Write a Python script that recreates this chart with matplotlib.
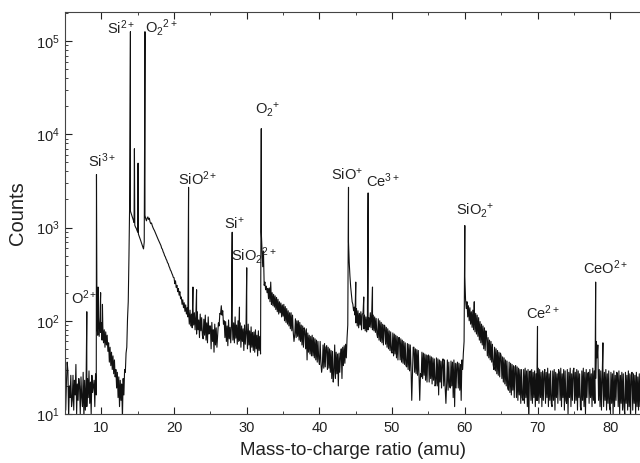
import matplotlib
matplotlib.use("Agg")
import matplotlib.pyplot as plt
from matplotlib.ticker import MultipleLocator, LogLocator, NullFormatter
import numpy as np

plt.rcParams['font.family'] = ['Liberation Sans', 'DejaVu Sans']
plt.rcParams['mathtext.fontset'] = 'custom'
plt.rcParams['mathtext.rm'] = 'Liberation Sans'
plt.rcParams['mathtext.it'] = 'Liberation Sans'
plt.rcParams['mathtext.default'] = 'regular'

# ----------------------------------------------------------------------------
# Background counts on a 0.1 amu grid.
# One row per amu: values at m.0, m.1, ... m.9
# ----------------------------------------------------------------------------
first_amu = 5
amu_step = 0.1
background_rows = [
    [24, 11, 22, 36, 29, 9, 20, 15, 26, 12],                  # 5
    [14, 26, 11, 23, 16, 34, 10, 21, 14, 24],                 # 6
    [20, 10, 25, 15, 12, 28, 9, 23, 11, 21],                  # 7
    [12, 24, 15, 29, 13, 22, 10, 26, 17, 20],                 # 8
    [23, 12, 27, 16, 95, 70, 110, 68, 100, 75],               # 9
    [95, 62, 88, 58, 80, 52, 76, 55, 70, 47],                 # 10
    [58, 36, 52, 33, 46, 30, 42, 27, 38, 25],                 # 11
    [30, 19, 28, 15, 25, 12, 23, 14, 21, 9],                  # 12
    [24, 16, 30, 28, 45, 52, 105, 160, 500, 2000],            # 13
    [1500, 1420, 1350, 1280, 1200, 1130, 1060, 1010, 980, 930],   # 14
    [890, 850, 810, 770, 730, 690, 650, 620, 590, 700],       # 15
    [1350, 1250, 1180, 1260, 1300, 1220, 1260, 1150, 1100, 1120],  # 16
    [1050, 1000, 960, 930, 890, 850, 820, 780, 750, 720],     # 17
    [690, 660, 640, 600, 585, 550, 530, 500, 485, 460],       # 18
    [445, 420, 410, 385, 370, 350, 340, 322, 310, 292],       # 19
    [290, 250, 268, 228, 240, 205, 222, 188, 205, 172],       # 20
    [180, 150, 168, 138, 156, 126, 148, 118, 138, 110],       # 21
    [125, 92, 130, 88, 118, 84, 138, 90, 122, 80],            # 22
    [112, 72, 125, 80, 102, 66, 118, 78, 108, 70],            # 23
    [64, 104, 70, 115, 62, 95, 58, 110, 72, 88],              # 24
    [88, 50, 96, 60, 80, 46, 92, 55, 84, 52],                 # 25
    [70, 95, 88, 120, 118, 145, 115, 128, 92, 100],           # 26
    [66, 98, 60, 88, 54, 102, 64, 85, 58, 92],                # 27
    [105, 62, 95, 58, 110, 65, 90, 56, 100, 60],              # 28
    [62, 95, 52, 88, 60, 82, 48, 90, 56, 80],                 # 29
    [84, 50, 92, 55, 78, 46, 86, 52, 75, 48],                 # 30
    [76, 46, 80, 50, 70, 42, 78, 48, 68, 44],                 # 31
    [900, 600, 380, 560, 240, 260, 215, 235, 200, 222],       # 32
    [172, 225, 160, 260, 150, 200, 145, 192, 140, 185],       # 33
    [132, 178, 125, 170, 118, 160, 122, 155, 110, 148],       # 34
    [112, 150, 100, 142, 96, 135, 92, 128, 88, 122],          # 35
    [82, 122, 78, 115, 75, 60, 70, 105, 66, 100],             # 36
    [68, 100, 62, 96, 60, 90, 55, 88, 52, 84],                # 37
    [78, 50, 82, 38, 74, 46, 70, 44, 68, 42],                 # 38
    [70, 42, 66, 40, 64, 38, 62, 36, 60, 39],                 # 39
    [34, 60, 36, 28, 33, 55, 31, 57, 32, 52],                 # 40
    [54, 30, 52, 31, 50, 28, 48, 24, 47, 22],                 # 41
    [28, 55, 24, 46, 27, 44, 20, 45, 28, 42],                 # 42
    [50, 24, 52, 33, 54, 35, 56, 40, 65, 90],                 # 43
    [700, 420, 300, 230, 190, 160, 150, 128, 140, 115],       # 44
    [95, 135, 88, 128, 84, 120, 90, 125, 80, 118],            # 45
    [120, 82, 115, 78, 110, 76, 112, 80, 108, 86],            # 46
    [122, 84, 118, 80, 115, 78, 110, 75, 106, 72],            # 47
    [66, 105, 62, 100, 60, 96, 58, 92, 55, 90],               # 48
    [88, 56, 85, 52, 82, 50, 78, 48, 76, 46],                 # 49
    [45, 74, 42, 72, 44, 70, 40, 68, 38, 66],                 # 50
    [66, 38, 64, 36, 62, 35, 60, 34, 58, 33],                 # 51
    [32, 57, 30, 56, 29, 55, 31, 14, 28, 52],                 # 52
    [52, 28, 50, 27, 49, 26, 48, 25, 14, 27],                 # 53
    [25, 46, 24, 45, 26, 44, 23, 43, 22, 42],                 # 54
    [43, 22, 42, 24, 41, 21, 40, 23, 39, 20],                 # 55
    [21, 40, 20, 39, 16, 38, 22, 37, 19, 36],                 # 56
    [39, 20, 38, 19, 13, 21, 38, 18, 36, 20],                 # 57
    [19, 37, 20, 36, 15, 38, 12, 35, 19, 34],                 # 58
    [36, 19, 35, 18, 34, 14, 38, 30, 45, 60],                 # 59
    [300, 170, 135, 160, 110, 145, 100, 138, 92, 125],        # 60
    [85, 130, 80, 145, 76, 120, 72, 115, 68, 108],            # 61
    [62, 98, 58, 92, 55, 88, 50, 84, 48, 78],                 # 62
    [70, 42, 66, 40, 62, 38, 60, 36, 56, 34],                 # 63
    [30, 52, 29, 50, 27, 48, 26, 46, 25, 45],                 # 64
    [42, 24, 41, 22, 40, 21, 38, 20, 37, 19],                 # 65
    [18, 36, 17, 35, 16, 34, 18, 33, 15, 32],                 # 66
    [33, 15, 32, 14, 31, 16, 30, 13, 30, 15],                 # 67
    [14, 30, 13, 31, 15, 29, 12, 30, 8, 28],                  # 68
    [29, 14, 30, 13, 28, 15, 29, 12, 27, 14],                 # 69
    [14, 31, 13, 30, 15, 28, 12, 29, 14, 27],                 # 70
    [30, 13, 28, 15, 31, 12, 27, 14, 29, 13],                 # 71
    [12, 29, 14, 30, 11, 28, 15, 27, 13, 30],                 # 72
    [28, 14, 31, 12, 27, 15, 30, 11, 29, 14],                 # 73
    [13, 30, 10, 28, 15, 31, 12, 27, 14, 29],                 # 74
    [31, 13, 28, 14, 30, 11, 29, 15, 27, 12],                 # 75
    [11, 29, 14, 31, 12, 28, 10, 30, 15, 27],                 # 76
    [28, 13, 30, 15, 27, 12, 31, 14, 29, 13],                 # 77
    [24, 60, 40, 55, 14, 30, 12, 29, 11, 27],                 # 78
    [30, 12, 28, 14, 30, 11, 27, 13, 29, 12],                 # 79
    [11, 28, 13, 27, 10, 29, 12, 26, 14, 28],                 # 80
    [27, 12, 29, 10, 26, 13, 28, 11, 27, 12],                 # 81
    [10, 28, 13, 26, 11, 29, 12, 27, 9, 26],                  # 82
    [28, 11, 27, 13, 26, 10, 28, 12, 25, 11],                 # 83
    [27, 12, 26],                                             # 84
]

# Narrow peaks and spikes: mass (amu) and top counts
peak_mass = [8.0, 9.33, 9.55, 9.9, 10.15, 14.0, 14.55, 15.05, 16.0,
             22.0, 22.6, 23.1, 28.0, 29.0, 30.0, 32.0,
             44.0, 45.0, 46.1, 46.7, 47.3, 60.0, 61.3, 70.0, 78.0, 79.0]
peak_counts = [125, 3700, 230, 200, 150, 126000, 7000, 4900, 126000,
               2700, 230, 215, 890, 140, 370, 11500,
               2700, 260, 180, 2350, 230, 1050, 160, 87, 260, 58]

# Peak labels: text, mass, counts (label centre)
label_text = [r'O$^{2+}$', r'Si$^{3+}$', r'Si$^{2+}$', r'O$_2$$^{2+}$', r'SiO$^{2+}$',
              r'Si$^{+}$', r'SiO$_2$$^{2+}$', r'O$_2$$^{+}$', r'SiO$^{+}$', r'Ce$^{3+}$',
              r'SiO$_2$$^{+}$', r'Ce$^{2+}$', r'CeO$^{2+}$']
label_mass = [7.6, 10.1, 12.7, 18.2, 23.2, 28.25, 31.0, 32.9, 43.8, 48.7,
              61.4, 70.75, 79.4]
label_counts = [175, 5250, 1.4e5, 1.4e5, 3300, 1100, 500, 18200, 3700, 3200,
                1500, 122, 370]

# ----------------------------------------------------------------------------
# Build the spectrum
# ----------------------------------------------------------------------------
bg_counts = [v for row in background_rows for v in row]
bg_mass = [round(first_amu + amu_step * i, 2) for i in range(len(bg_counts))]

# peaks first so that at equal mass the peak comes before the background point
all_mass = np.array(peak_mass + bg_mass, dtype=float)
all_counts = np.array(peak_counts + bg_counts, dtype=float)
order = np.argsort(all_mass, kind='stable')
mass = all_mass[order]
counts = all_counts[order]

fig = plt.figure(figsize=(6.4, 4.63), dpi=100)
ax = fig.add_axes([65 / 640, 49 / 463, 575 / 640, 402 / 463])

ax.plot(mass, counts, color='#111111', linewidth=0.8)

ax.set_yscale('log')
ax.set_xlim(5, 84.1)
ax.set_ylim(10, 2.05e5)

ax.xaxis.set_major_locator(MultipleLocator(10))
ax.xaxis.set_minor_locator(MultipleLocator(5))
ax.yaxis.set_major_locator(LogLocator(base=10, numticks=10))
ax.yaxis.set_minor_locator(LogLocator(base=10, subs=np.arange(2, 10), numticks=20))
ax.yaxis.set_minor_formatter(NullFormatter())

ax.tick_params(axis='x', which='both', direction='in', top=True, bottom=True,
               labelsize=10.5, pad=5, colors='#222222')
ax.tick_params(axis='y', which='both', direction='in', left=True, right=False,
               labelsize=10.5, pad=4, colors='#222222')
ax.tick_params(which='major', length=5, width=0.8)
ax.tick_params(which='minor', length=2.5, width=0.6)

for side in ['left', 'top', 'bottom']:
    ax.spines[side].set_color('#444444')
    ax.spines[side].set_linewidth(0.8)
ax.spines['right'].set_visible(False)

ax.set_xlabel('Mass-to-charge ratio (amu)', fontsize=13.5, color='#222222', labelpad=5)
ax.set_ylabel('Counts', fontsize=14.5, color='#222222', labelpad=6)

for txt, m, c in zip(label_text, label_mass, label_counts):
    ax.text(m, c, txt, ha='center', va='center', fontsize=10.5, color='#222222')

fig.savefig('out.png', dpi=100)
